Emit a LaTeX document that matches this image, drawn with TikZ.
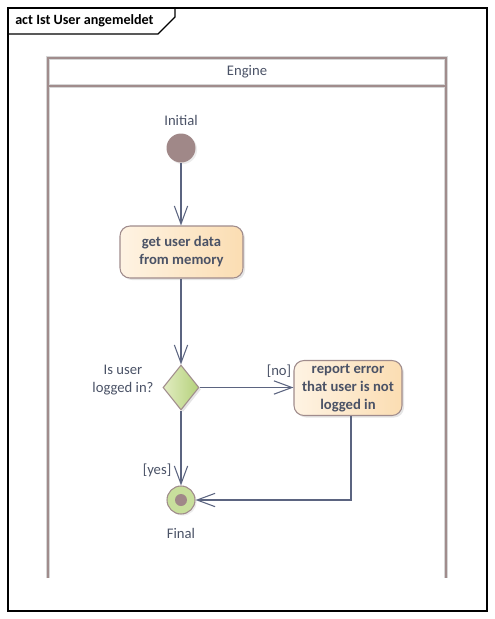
\documentclass[tikz,border=0pt]{standalone}
\usepackage{fontspec}
\setmainfont{Carlito}
\usetikzlibrary{arrows.meta,shapes.geometric,shadows}
\definecolor{edgecol}{HTML}{5B6480}
\definecolor{lanecol}{HTML}{A08C8C}
\definecolor{laneglow}{HTML}{D6D6D6}
\definecolor{txtcol}{HTML}{4A5266}
\definecolor{bordercol}{HTML}{A08C8C}
\definecolor{dotcol}{HTML}{A08888}
\definecolor{actl}{HTML}{FEF3E3}
\definecolor{actr}{HTML}{FBDDB2}
\definecolor{decl}{HTML}{E2ECC2}
\definecolor{decr}{HTML}{B4D17A}
\definecolor{finfill}{HTML}{C8DF9C}
\tikzset{
  actbox/.style={rectangle, rounded corners=7.5pt, draw=bordercol, line width=0.8pt,
    left color=actl, right color=actr, align=center, font=\bfseries\fontsize{11}{13.5}\selectfont,
    text=txtcol, inner sep=2pt, drop shadow={shadow xshift=1.5pt, shadow yshift=-1.5pt, fill=black!20}},
  decbox/.style={diamond, draw=bordercol, line width=0.8pt, left color=decl, right color=decr,
    minimum width=27pt, minimum height=33.75pt, inner sep=0pt,
    drop shadow={shadow xshift=1.5pt, shadow yshift=-1.5pt, fill=black!20}},
  lbl/.style={font=\fontsize{11}{13.5}\selectfont, text=txtcol, align=center, inner sep=1pt},
  flow/.style={draw=edgecol, line width=0.8pt, -{Straight Barb[length=13.5pt,width=10pt,line width=0.8pt]}},
  lane/.style={line width=2.4pt, draw=laneglow},
  laneinner/.style={line width=1pt, draw=lanecol},
}
\begin{document}
\begin{tikzpicture}[x=0.75pt,y=-0.75pt]
\useasboundingbox (0,0) rectangle (495,619);
% frame
\draw[line width=1pt, black] (8,8) rectangle (487,611);
\draw[line width=1pt, black] (8,34) -- (158,34) -- (175,17) -- (175,8);
\node[anchor=west, font=\bfseries\fontsize{10.6}{12}\selectfont, inner sep=0pt] (title) at (15,21) {act Ist User angemeldet};
% lane
\foreach \st in {lane,laneinner}{
  \draw[\st] (48,578) -- (48,58) -- (446,58) -- (446,578);
  \draw[\st] (48,86) -- (446,86);
}
\node[lbl] (engine) at (247,72) {Engine};
% nodes
\node[circle, fill=dotcol, minimum size=21.75pt, inner sep=0pt,
  drop shadow={shadow xshift=1.2pt, shadow yshift=-1.2pt, fill=black!15}] (init) at (181,148) {};
\node[lbl] (initlbl) at (181,120) {Initial};
\node[actbox, minimum width=92.25pt, minimum height=39pt] (a1) at (181.5,252) {get user data\\from memory};
\node[decbox] (dec) at (181,387.5) {};
\node[lbl] (declbl) at (123,380) {Is user\\logged in?};
\node[actbox, minimum width=81pt, minimum height=41.25pt] (a2) at (348,388) {report error\\that user is not\\logged in};
\node[circle, draw=bordercol, line width=0.8pt, fill=finfill, minimum size=21pt, inner sep=0pt,
  drop shadow={shadow xshift=1.2pt, shadow yshift=-1.2pt, fill=black!15}] (final) at (181,500) {};
\node[circle, fill=dotcol, minimum size=9pt, inner sep=0pt] (finaldot) at (final.center) {};
\node[lbl] (finallbl) at (181,533) {Final};
\node[lbl] (nolbl) at (279,371) {[no]};
\node[lbl] (yeslbl) at (157,470) {[yes]};
% connectors
\draw[flow] (init.south) -- (init.south |- a1.north);
\draw[flow] (a1.south -| dec.north) -- (dec.north);
\draw[flow] (dec.east) -- (dec.east -| a2.west);
\draw[flow] (dec.south) -- (final.north);
\draw[flow] ([xshift=2.25pt]a2.south) |- (final.east);
\end{tikzpicture}
\end{document}
